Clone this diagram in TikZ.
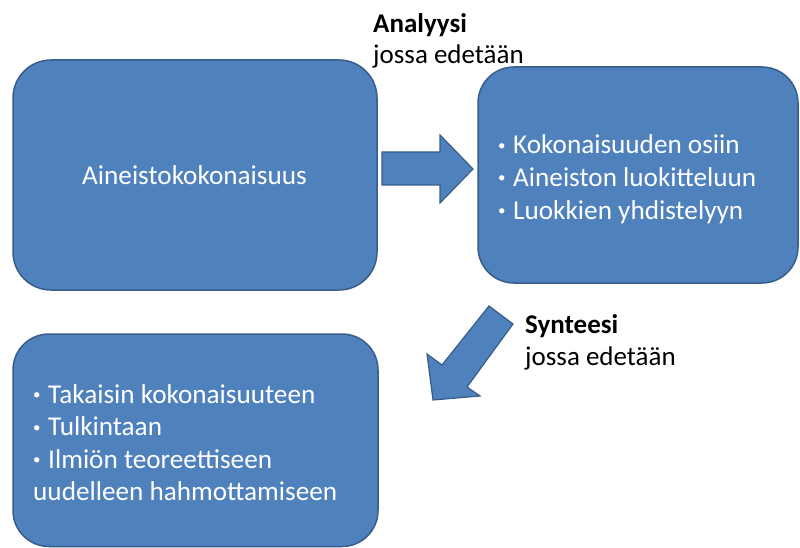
\documentclass[tikz,border=0pt]{standalone}
\usepackage{fontspec}
\setmainfont{Carlito}
\definecolor{boxfill}{HTML}{4F81BD}
\definecolor{boxline}{HTML}{385D8A}
% small list bullet followed by a fixed gap
\newcommand\listdot{\makebox[15pt][l]{\fontsize{15}{15}\selectfont\raisebox{3.5pt}{•}}}
\begin{document}
\begin{tikzpicture}[x=1pt,y=-1pt,
  panel/.style={draw=boxline,fill=boxfill,line width=1.5pt},
  intext/.style={text=white,inner sep=0pt,font=\fontsize{27.2}{32.5}\selectfont},
  caption/.style={text=black,inner sep=0pt,anchor=base west,font=\fontsize{27}{32.5}\selectfont},
  blockarrow/.style={draw=boxline,fill=boxfill,line width=1.2pt,line join=miter}]
\useasboundingbox (0,0) rectangle (800,548);

% three rounded panels
\draw[panel,rounded corners=38pt] (13,60) rectangle (377,290);
\draw[panel,rounded corners=36pt] (478,67) rectangle (798,283);
\draw[panel,rounded corners=36pt] (13,334) rectangle (378,546.5);

% panel texts
\node[intext,anchor=base] (whole) at (194.5,185) {Aineistokokonaisuus};

\node[intext,anchor=base west] (a1) at (498,154) {\listdot Kokonaisuuden osiin};
\node[intext,anchor=base west] (a2) at (498,186.5) {\listdot Aineiston luokitteluun};
\node[intext,anchor=base west] (a3) at (498,219) {\listdot Luokkien yhdistelyyn};

\node[intext,anchor=base west] (s1) at (33,403) {\listdot Takaisin kokonaisuuteen};
\node[intext,anchor=base west] (s2) at (33,435.5) {\listdot Tulkintaan};
\node[intext,anchor=base west] (s3) at (33,468) {\listdot Ilmiön teoreettiseen};
\node[intext,anchor=base west] (s4) at (33,500.5) {uudelleen hahmottamiseen};

% step captions
\node[caption] (an) at (373,33) {\bfseries Analyysi};
\node[caption] (anj) at (373,64) {jossa edetään};
\node[caption] (sy) at (525,333) {\bfseries Synteesi};
\node[caption] (syj) at (525,365) {jossa edetään};

% block arrows
\draw[blockarrow] (382,152) -- (440,152) -- (440,135) -- (473,169)
  -- (440,203) -- (440,185) -- (382,185) -- cycle;
\draw[blockarrow] (489,306) -- (513,324) -- (467,387) -- (480,396)
  -- (433,400) -- (427,354) -- (442,365) -- cycle;
\end{tikzpicture}
\end{document}
